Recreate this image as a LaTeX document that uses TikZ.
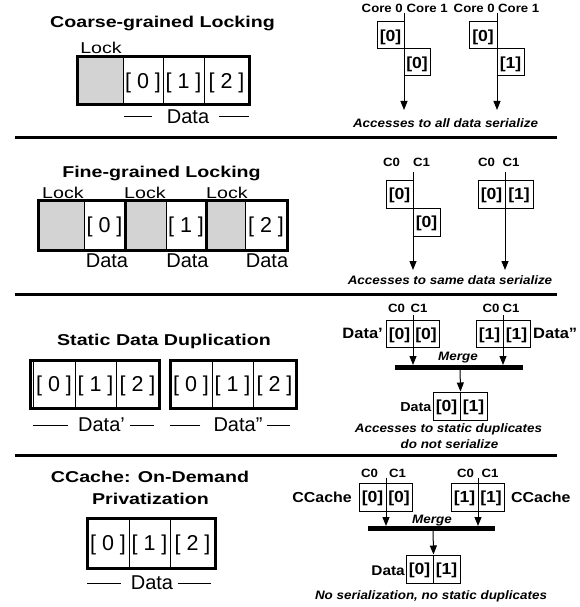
\documentclass[tikz,border=0pt]{standalone}
\usepackage{fontspec}
\setmainfont{Liberation Sans}
\newfontfamily\wideA[FakeStretch=1.25]{Liberation Sans}
\newfontfamily\wideB[FakeStretch=1.1]{Liberation Sans}
\usetikzlibrary{arrows.meta}
\definecolor{lockgray}{RGB}{211,211,211}
\tikzset{
 title/.style={font=\wideA\bfseries\fontsize{15.7}{18}\selectfont, inner sep=0pt, text depth=0pt},
 lbl/.style={font=\wideA\fontsize{15.7}{18}\selectfont, inner sep=0pt, text depth=0pt},
 datalbl/.style={font=\fontsize{20}{22}\selectfont, inner sep=0pt, text depth=0pt},
 digit/.style={draw, line width=1pt, inner sep=0pt, text depth=0pt, font=\fontsize{21.5}{23}\selectfont},
 graycell/.style={draw, line width=1pt, fill=lockgray, inner sep=0pt},
 core/.style={font=\wideB\bfseries\fontsize{12}{14}\selectfont, inner sep=0pt, text depth=0pt},
 note/.style={font=\wideB\bfseries\itshape\fontsize{12.2}{14}\selectfont, inner sep=0pt, text depth=0pt},
 side/.style={font=\wideB\bfseries\fontsize{15}{17}\selectfont, inner sep=0pt, text depth=0pt},
 cell/.style={draw, line width=1pt, inner sep=0pt, text depth=0pt, minimum height=28pt, font=\wideB\bfseries\fontsize{16}{18}\selectfont},
 outerbox/.style={line width=3pt},
 sepline/.style={line width=3pt},
 arr/.style={line width=1pt, -{Triangle[length=9pt,width=7pt]}},
 mergebar/.style={line width=5pt},
 rule/.style={line width=1pt},
}
\begin{document}
\begin{tikzpicture}[x=1pt,y=-1pt]
\useasboundingbox (0,0) rectangle (580,607);

% ================= Section 1 =================
\node[title] (t1) at (162.5,22) {Coarse-grained Locking};
\node[lbl] (lk1) at (101,48) {Lock};
\node[graycell, minimum width=46pt, minimum height=48pt] (g1) at (100,81) {};
\node[digit, minimum width=40pt, minimum height=48pt] (a10) at (143,81) {[ 0 ]};
\node[digit, minimum width=41pt, minimum height=48pt] (a11) at (183.5,81) {[ 1 ]};
\node[digit, minimum width=45pt, minimum height=48pt] (a12) at (226.5,81) {[ 2 ]};
\draw[outerbox] (77,57) rectangle (249,105);
\node[datalbl] (d1) at (188,117) {Data};
\draw[rule] ([xshift=-15pt]d1.west) -- ++(-28,0);
\draw[rule] ([xshift=10pt]d1.east) -- ++(30,0);

\node[core, anchor=east] (k0a) at (403,8) {Core 0};
\node[core, anchor=west] (k1a) at (406.5,8) {Core 1};
\node[core, anchor=east] (k0b) at (495,8) {Core 0};
\node[core, anchor=west] (k1b) at (498,8) {Core 1};
\node[cell, minimum width=27pt, minimum height=27pt] (p1a) at (390.5,35.5) {[0]};
\node[cell, minimum width=26pt, minimum height=27pt] (p1b) at (417,62.5) {[0]};
\node[cell, minimum width=28pt, minimum height=27pt] (q1a) at (483,35.5) {[0]};
\node[cell, minimum width=27pt, minimum height=27pt] (q1b) at (510.5,62.5) {[1]};
\coordinate (s1a) at (404,13); \coordinate (e1a) at (404,110);
\coordinate (s1b) at (497,13); \coordinate (e1b) at (497,110);
\draw[arr] (s1a) -- (e1a);
\draw[arr] (s1b) -- (e1b);
\node[note] (n1) at (445.5,123) {Accesses to all data serialize};

\draw[sepline] (15,137) -- (557,137);

% ================= Section 2 =================
\node[title] (t2) at (161.5,172) {Fine-grained Locking};
\node[lbl, anchor=west] (lk2a) at (42,193) {Lock};
\node[lbl, anchor=west] (lk2b) at (124,193) {Lock};
\node[lbl, anchor=west] (lk2c) at (206,193) {Lock};
\node[graycell, minimum width=46pt, minimum height=50pt] (g2a) at (61,225) {};
\node[digit, minimum width=41pt, minimum height=50pt] (a20) at (104.5,225) {[ 0 ]};
\node[graycell, minimum width=41pt, minimum height=50pt] (g2b) at (145.5,225) {};
\node[digit, minimum width=40pt, minimum height=50pt] (a21) at (186,225) {[ 1 ]};
\node[graycell, minimum width=39pt, minimum height=50pt] (g2c) at (225.5,225) {};
\node[digit, minimum width=42pt, minimum height=50pt] (a22) at (266,225) {[ 2 ]};
\draw[outerbox] (125,200) -- (125,250);
\draw[outerbox] (206,200) -- (206,250);
\draw[outerbox] (38,200) rectangle (287,250);
\node[datalbl] (d2a) at (107,261) {Data};
\node[datalbl] (d2b) at (187.5,261) {Data};
\node[datalbl] (d2c) at (267,261) {Data};

\node[core] (c2a0) at (391.5,162) {C0};
\node[core] (c2a1) at (421.5,162) {C1};
\node[core] (c2b0) at (486.5,162) {C0};
\node[core] (c2b1) at (511,162) {C1};
\node[cell, minimum width=27pt] (p2a) at (399.5,194) {[0]};
\node[cell, minimum width=27pt] (p2b) at (426.5,222) {[0]};
\node[cell, minimum width=27pt] (q2a) at (491.5,194) {[0]};
\node[cell, minimum width=28pt] (q2b) at (519,194) {[1]};
\coordinate (s2a) at (413,172); \coordinate (e2a) at (413,270);
\coordinate (s2b) at (505,172); \coordinate (e2b) at (505,270);
\draw[arr] (s2a) -- (e2a);
\draw[arr] (s2b) -- (e2b);
\node[note] (n2) at (450,280) {Accesses to same data serialize};

\draw[sepline] (15,294) -- (557,294);

% ================= Section 3 =================
\node[title] (t3) at (164,340) {Static Data Duplication};
\node[digit, minimum width=42pt, minimum height=48pt] (a30) at (54,384) {[ 0 ]};
\node[digit, minimum width=41pt, minimum height=48pt] (a31) at (95.5,384) {[ 1 ]};
\node[digit, minimum width=43pt, minimum height=48pt] (a32) at (137.5,384) {[ 2 ]};
\draw[outerbox] (30,360) rectangle (159,408);
\node[digit, minimum width=42pt, minimum height=48pt] (b30) at (191,384) {[ 0 ]};
\node[digit, minimum width=41pt, minimum height=48pt] (b31) at (232.5,384) {[ 1 ]};
\node[digit, minimum width=43pt, minimum height=48pt] (b32) at (274.5,384) {[ 2 ]};
\draw[outerbox] (170,360) rectangle (296,408);
\node[datalbl] (d3a) at (101.5,425) {Data’};
\draw[rule] ([xshift=-10pt]d3a.west) -- ++(-35,0);
\draw[rule] ([xshift=5pt]d3a.east) -- ++(24,0);
\node[datalbl] (d3b) at (238,425) {Data”};
\draw[rule] ([xshift=-13pt]d3b.west) -- ++(-30,0);
\draw[rule] ([xshift=4pt]d3b.east) -- ++(23,0);

\node[core] (c3a0) at (396.5,308) {C0};
\node[core] (c3a1) at (419,308) {C1};
\node[core] (c3b0) at (491,308) {C0};
\node[core] (c3b1) at (511,308) {C1};
\node[side, anchor=east] (dl3) at (383,333) {Data’};
\node[cell, minimum width=27pt, minimum height=27pt] (p3a) at (399.5,333.5) {[0]};
\node[cell, minimum width=26pt, minimum height=27pt] (p3b) at (426,333.5) {[0]};
\node[cell, minimum width=27pt, minimum height=27pt] (q3a) at (489.5,333.5) {[1]};
\node[cell, minimum width=27pt, minimum height=27pt] (q3b) at (516.5,333.5) {[1]};
\node[side, anchor=west] (dr3) at (533,333) {Data”};
\node[note] (mg3) at (458,356) {Merge};
\coordinate (bl3) at (395,367); \coordinate (br3) at (523,367);
\draw[mergebar] (bl3) -- (br3);
\coordinate (s3a) at (413,315); \coordinate (e3a) at (413,365);
\coordinate (s3b) at (503,315); \coordinate (e3b) at (503,365);
\draw[arr] (s3a) -- (e3a);
\draw[arr] (s3b) -- (e3b);
\node[cell, minimum width=27pt] (r3a) at (446.5,406) {[0]};
\node[cell, minimum width=27pt] (r3b) at (473.5,406) {[1]};
\coordinate (m3) at (460,367);
\draw[arr] (m3) -- (r3a.north east);
\node[side, font=\wideB\bfseries\fontsize{13}{15}\selectfont, anchor=east] (dd3) at (431.5,407) {Data};
\node[note] (n3a) at (448.5,428) {Accesses to static duplicates};
\node[note] (n3b) at (449.5,444) {do not serialize};

\draw[sepline] (15,455) -- (557,455);

% ================= Section 4 =================
\node[title] (t4a) at (150,477) {CCache: On-Demand};
\node[title] (t4b) at (150.5,499) {Privatization};
\node[digit, minimum width=42pt, minimum height=50pt] (a40) at (108,543) {[ 0 ]};
\node[digit, minimum width=41pt, minimum height=50pt] (a41) at (149.5,543) {[ 1 ]};
\node[digit, minimum width=45pt, minimum height=50pt] (a42) at (192.5,543) {[ 2 ]};
\draw[outerbox] (87,518) rectangle (215,568);
\node[datalbl] (d4) at (152,583) {Data};
\draw[rule] ([xshift=-10pt]d4.west) -- ++(-34,0);
\draw[rule] ([xshift=5pt]d4.east) -- ++(33,0);

\node[core] (c4a0) at (369.5,473) {C0};
\node[core] (c4a1) at (397.5,473) {C1};
\node[core] (c4b0) at (465.5,473) {C0};
\node[core] (c4b1) at (490,473) {C1};
\node[side, font=\wideB\bfseries\fontsize{14.5}{16}\selectfont, anchor=east] (cl4) at (352,497) {CCache};
\node[cell, minimum width=27pt] (p4a) at (372.5,497) {[0]};
\node[cell, minimum width=26pt] (p4b) at (399,497) {[0]};
\node[cell, minimum width=27pt] (q4a) at (464.5,497) {[1]};
\node[cell, minimum width=26pt] (q4b) at (491,497) {[1]};
\node[side, font=\wideB\bfseries\fontsize{14.5}{16}\selectfont, anchor=west] (cr4) at (511,497) {CCache};
\node[note] (mg4) at (432,519) {Merge};
\coordinate (bl4) at (368,528); \coordinate (br4) at (495,528);
\draw[mergebar] (bl4) -- (br4);
\coordinate (s4a) at (386,478); \coordinate (e4a) at (386,526);
\coordinate (s4b) at (478,478); \coordinate (e4b) at (478,526);
\draw[arr] (s4a) -- (e4a);
\draw[arr] (s4b) -- (e4b);
\node[cell, minimum width=27pt] (r4a) at (419.5,569) {[0]};
\node[cell, minimum width=27pt] (r4b) at (446.5,569) {[1]};
\coordinate (m4) at (433,528);
\draw[arr] (m4) -- (r4a.north east);
\node[side, font=\wideB\bfseries\fontsize{14}{16}\selectfont, anchor=east] (dd4) at (405,571) {Data};
\node[note] (n4) at (431,595) {No serialization, no static duplicates};
\end{tikzpicture}
\end{document}
